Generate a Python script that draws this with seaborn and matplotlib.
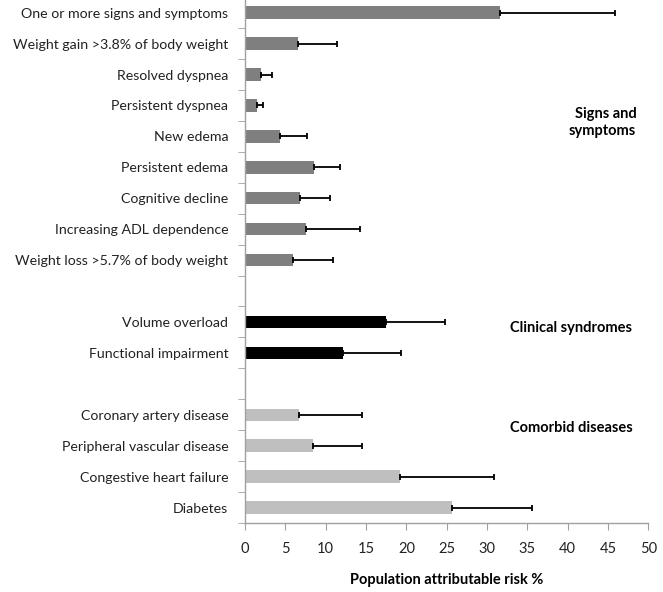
import numpy as np
import pandas as pd
import matplotlib
matplotlib.use("Agg")
import matplotlib.pyplot as plt
import seaborn as sns

# ----- Data -----------------------------------------------------------------
signs_labels = [
    "One or more signs and symptoms",
    "Weight gain >3.8% of body weight",
    "Resolved dyspnea",
    "Persistent dyspnea",
    "New edema",
    "Persistent edema",
    "Cognitive decline",
    "Increasing ADL dependence",
    "Weight loss >5.7% of body weight",
]
signs_values = [31.6, 6.6, 2.0, 1.5, 4.4, 8.5, 6.8, 7.6, 5.9]
signs_upper  = [45.8, 11.4, 3.3, 2.2, 7.7, 11.8, 10.5, 14.2, 10.9]

clin_labels = ["Volume overload", "Functional impairment"]
clin_values = [17.5, 12.1]
clin_upper  = [24.8, 19.3]

comorb_labels = [
    "Coronary artery disease",
    "Peripheral vascular disease",
    "Congestive heart failure",
    "Diabetes",
]
comorb_values = [6.7, 8.4, 19.2, 25.6]
comorb_upper  = [14.5, 14.5, 30.9, 35.6]

group_names = ["Signs and\nsymptoms", "Clinical syndromes", "Comorbid diseases"]
xticks = [0, 5, 10, 15, 20, 25, 30, 35, 40, 45, 50]

# ----- Table ----------------------------------------------------------------
df = pd.DataFrame({
    "label": signs_labels + clin_labels + comorb_labels,
    "value": signs_values + clin_values + comorb_values,
    "upper": signs_upper + clin_upper + comorb_upper,
    "group": (["signs"] * len(signs_labels) + ["clin"] * len(clin_labels)
              + ["comorb"] * len(comorb_labels)),
})
# blank slots between groups
order = signs_labels + [" "] + clin_labels + ["  "] + comorb_labels
palette = {"signs": "#7f7f7f", "clin": "#000000", "comorb": "#bfbfbf"}

plt.rcParams["font.family"] = ["Lato", "DejaVu Sans"]

fig = plt.figure(figsize=(6.63, 5.92), dpi=100)
ax = fig.add_axes([0.3695, 0.1166, 0.6085, 0.8881])

sns.barplot(data=df, x="value", y="label", hue="group", order=order,
            palette=palette, dodge=False, width=0.4, orient="h",
            legend=False, ax=ax, saturation=1)

pos = [order.index(l) for l in df["label"]]
ax.errorbar(df["value"], pos, xerr=[np.zeros(len(df)), df["upper"] - df["value"]],
            fmt="none", ecolor="black", elinewidth=1.3, capsize=2.5, capthick=1.3)

ax.set_xlim(0, 50)
ax.set_ylim(len(order) - 0.5, -0.5)
ax.set_xticks(xticks)
ax.set_xticklabels([str(t) for t in xticks])
ax.set_yticks(np.arange(-0.5, len(order), 1), minor=True)

ax.set_xlabel("Population attributable risk %", fontsize=10.5,
              fontweight="bold", labelpad=12)
ax.set_ylabel("")

for s in ["top", "right"]:
    ax.spines[s].set_visible(False)
for s in ["left", "bottom"]:
    ax.spines[s].set_color("#a0a0a0")
    ax.spines[s].set_linewidth(1.0)

ax.tick_params(axis="y", which="major", length=0, pad=12, labelsize=10.2,
               colors="#222222")
ax.tick_params(axis="y", which="minor", length=5, color="#a0a0a0")
ax.tick_params(axis="x", length=5, color="#a0a0a0", pad=9, labelsize=10.5,
               labelcolor="#222222")

# group annotations
ax.text(48.5, 3.56, group_names[0], ha="right", va="center", fontsize=10.5,
        fontweight="bold", linespacing=1.25)
ax.text(32.9, 10.19, group_names[1], ha="left", va="center", fontsize=10.5,
        fontweight="bold")
ax.text(32.9, 13.42, group_names[2], ha="left", va="center", fontsize=10.5,
        fontweight="bold")

fig.savefig("out.png", dpi=100)
